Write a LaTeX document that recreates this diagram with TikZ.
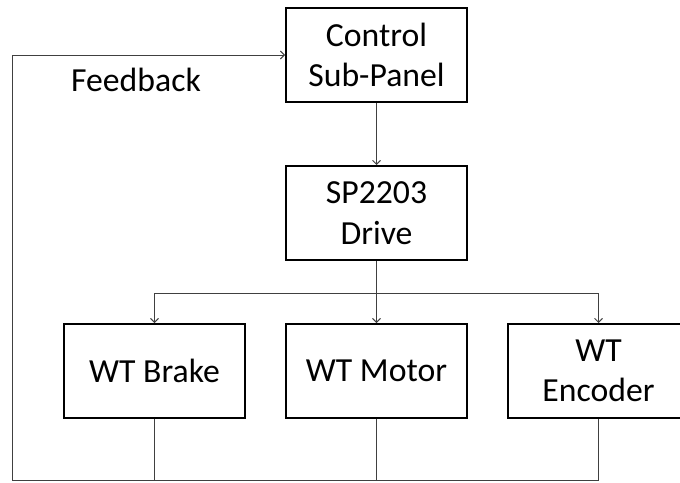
\documentclass[tikz,border=0pt]{standalone}
\usepackage{fontspec}
\setmainfont{Carlito}
\usepackage{xcolor}
\usepackage{tikz}
\usetikzlibrary{arrows.meta}
\definecolor{wire}{HTML}{404040}

\begin{document}
\begin{tikzpicture}[x=1pt, y=-1pt,
    blk/.style={draw, line width=2pt, minimum width=181pt, minimum height=94pt,
      align=center, font=\fontsize{33.7}{40.4}\selectfont},
    wireto/.style={draw=wire, line width=0.9pt, -{Straight Barb[length=4pt,width=8pt]}},
    wirel/.style={draw=wire, line width=0.9pt}]
      \useasboundingbox (0,0) rectangle (680,482);
      \def\gap{222}
      % top column
      \node[blk] (ctrl) at (376.5, 55) {Control\\Sub-Panel};
      \node[blk] (drive) at (376.5, 213) {SP2203\\Drive};
      \draw[wireto] (ctrl.south) -- (drive.north);
      \coordinate (split) at (376.5, 293);
      \coordinate (fbcorner) at (12, 480);
      \draw[wirel] (drive.south) -- (split);
      % the three wind tunnel parts
      \foreach[count=\i from 0] \nm/\txt in {brake/WT Brake, motor/WT Motor,
        encoder/{WT\\Encoder}} {
        \node[blk] (\nm) at (154.5 + \gap*\i, 371) {\txt};
        \draw[wireto] (split) -| (\nm.north);
        \draw[wirel] (\nm.south) -- (\nm.south |- fbcorner);
      }
      % feedback loop
      \draw[wireto] (encoder.south |- fbcorner) -- (fbcorner) |- (ctrl.west);
      \node[font=\fontsize{33.7}{40.4}\selectfont] (fblabel) at (136, 80) {Feedback};
    \end{tikzpicture}
\end{document}
